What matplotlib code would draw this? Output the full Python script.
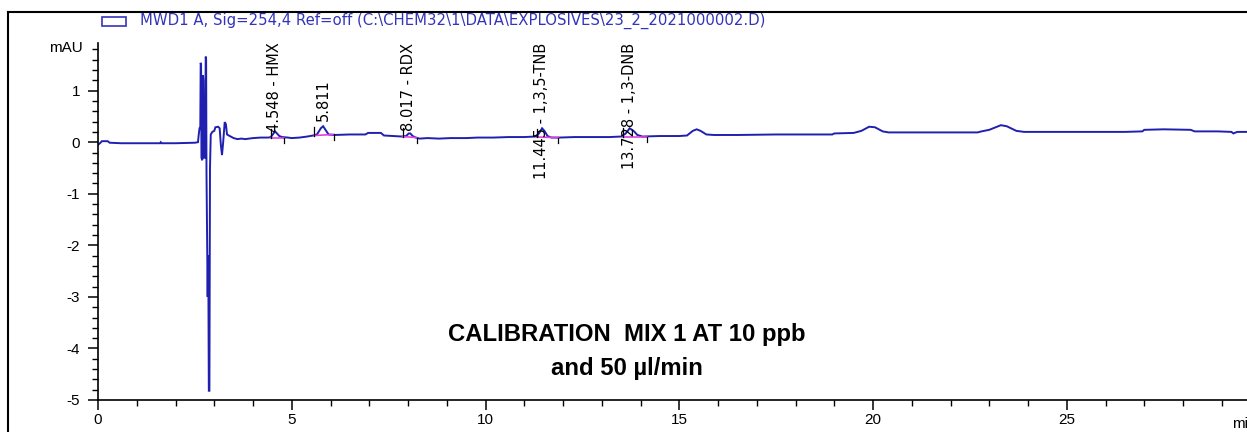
import matplotlib
matplotlib.use("Agg")
import matplotlib.pyplot as plt
from matplotlib.patches import Rectangle
from matplotlib.lines import Line2D
from matplotlib.ticker import MultipleLocator

# ---------------- data ----------------
time_min = [0.00, 0.05, 0.10, 0.25, 0.30, 0.6, 1.0, 1.6, 1.62, 1.64, 2.0, 2.5,
            2.58, 2.60, 2.62, 2.64, 2.65, 2.66, 2.67, 2.69, 2.71, 2.72, 2.73, 2.76,
            2.78, 2.79, 2.80, 2.82, 2.83, 2.84, 2.85, 2.86, 2.875, 2.89, 2.91, 2.95,
            3.00, 3.03, 3.10, 3.14, 3.17, 3.20, 3.23, 3.27, 3.30, 3.33, 3.40, 3.5,
            3.6, 3.7, 3.8, 3.9,
            4.0, 4.2, 4.4, 4.46, 4.52, 4.57, 4.62, 4.68, 4.75, 4.9, 5.0, 5.2, 5.4,
            5.55, 5.65, 5.75, 5.81, 5.87, 5.95, 6.1, 6.5, 6.9, 6.97, 7.3, 7.38, 7.6,
            7.85, 7.95, 8.02, 8.06, 8.12, 8.2, 8.3, 8.5, 8.8, 9.1, 9.5,
            9.8, 10.2, 10.6, 11.0, 11.28, 11.38, 11.46, 11.52, 11.6, 11.7, 11.9,
            12.3, 12.8, 13.2, 13.5, 13.62, 13.72, 13.82, 13.92, 14.05, 14.5, 15.0,
            15.2, 15.35, 15.45, 15.55, 15.7, 15.9, 16.5, 17.5, 18.5, 18.95, 19.0,
            19.5, 19.7, 19.9, 20.05, 20.25, 20.4, 21.0, 22.0, 22.7, 22.8, 23.0,
            23.3, 23.45, 23.7, 23.9, 24.5, 25.5, 26.5, 26.95, 27.0, 27.5, 28.2,
            28.3, 28.9, 29.25, 29.3, 29.4, 29.7]
signal_mau = [-0.05, -0.02, 0.02, 0.02, -0.01, -0.02, -0.02, -0.02, 0.0, -0.02, -0.02, -0.01,
              0.0, 0.15, 0.27, 0.30, 1.54, 1.50, -0.30, -0.35, 1.30, 1.20, -0.30, -0.30,
              1.66, 1.60, -0.60, -2.20, -3.00, -2.20, -3.00, -4.82, -4.82, -0.50, 0.15, 0.20,
              0.22, 0.29, 0.30, 0.27, -0.05, -0.25, 0.00, 0.39, 0.35, 0.15, 0.12, 0.08,
              0.06, 0.07, 0.06, 0.07,
              0.08, 0.09, 0.09, 0.10, 0.16, 0.21, 0.17, 0.12, 0.10, 0.09, 0.08, 0.09, 0.11,
              0.13, 0.15, 0.27, 0.31, 0.24, 0.15, 0.14, 0.15, 0.15, 0.18, 0.18, 0.13, 0.12,
              0.11, 0.12, 0.17, 0.17, 0.12, 0.09, 0.07, 0.08, 0.07, 0.08, 0.08,
              0.09, 0.09, 0.10, 0.10, 0.11, 0.17, 0.27, 0.22, 0.12, 0.09, 0.09,
              0.10, 0.10, 0.10, 0.11, 0.17, 0.27, 0.22, 0.14, 0.11, 0.12, 0.12,
              0.13, 0.22, 0.25, 0.22, 0.15, 0.14, 0.14, 0.15, 0.15, 0.15, 0.17,
              0.18, 0.22, 0.30, 0.29, 0.21, 0.19, 0.19, 0.19, 0.19, 0.21, 0.24,
              0.33, 0.31, 0.22, 0.20, 0.20, 0.20, 0.20, 0.21, 0.24, 0.25, 0.24,
              0.21, 0.21, 0.20, 0.17, 0.20, 0.20]

peak_rt = [4.548, 5.811, 8.017, 11.445, 13.728]
peak_name = ["HMX", "", "RDX", "1,3,5-TNB", "1,3-DNB"]
peak_apex = [0.21, 0.31, 0.17, 0.27, 0.27]
peak_start = [4.46, 5.58, 7.86, 11.32, 13.55]
peak_end = [4.80, 6.08, 8.22, 11.88, 14.17]
peak_base_start = [0.09, 0.13, 0.11, 0.10, 0.11]
peak_base_end = [0.09, 0.15, 0.09, 0.09, 0.11]

header = r"MWD1 A, Sig=254,4 Ref=off (C:\CHEM32\1\DATA\EXPLOSIVES\23_2_2021000002.D)"
note_line1 = "CALIBRATION  MIX 1 AT 10 ppb"
note_line2 = "and 50 µl/min"

# ---------------- figure ----------------
W, H = 1247, 432
fig = plt.figure(figsize=(W / 100, H / 100), dpi=100)
fig.patch.set_facecolor("white")

ax = fig.add_axes([98 / W, (H - 400) / H, 1 - 98 / W, (400 - 42.7) / H])
trace_col = "#2020b0"
ax.plot(time_min, signal_mau, color=trace_col, lw=1.4, solid_joinstyle="miter")

# integration baselines and event marks
for s, e, bs, be in zip(peak_start, peak_end, peak_base_start, peak_base_end):
    ax.plot([s, e], [bs, be], color="#e040e0", lw=1.2, zorder=3)
    ax.plot([s, s], [bs, bs + 0.16], color="black", lw=0.9, zorder=4)
    ax.plot([e, e], [be, be - 0.1], color="black", lw=0.9, zorder=4)

ax.set_xlim(0, (W - 98) / 38.75)
ax.set_ylim(-5, 1.93)

# peak labels
lab_font = dict(family="DejaVu Sans", size=10.5, color="black")
for rt, name, apex in zip(peak_rt, peak_name, peak_apex):
    if name:
        ax.text(rt, 1.93, f"{rt:.3f} - {name}", rotation=90, ha="center", va="top",
                **lab_font)
    else:
        ax.text(rt, apex + 0.1, f"{rt:.3f}", rotation=90, ha="center", va="bottom",
                **lab_font)

for sp in ["top", "right"]:
    ax.spines[sp].set_visible(False)
for sp in ["left", "bottom"]:
    ax.spines[sp].set_linewidth(1.2)

ax.xaxis.set_major_locator(MultipleLocator(5))
ax.xaxis.set_minor_locator(MultipleLocator(1))
ax.yaxis.set_major_locator(MultipleLocator(1))
ax.yaxis.set_minor_locator(MultipleLocator(0.2))
ax.tick_params(which="major", direction="out", length=7, width=1.1,
               labelsize=11, pad=6)
ax.tick_params(which="minor", direction="out", length=4, width=1.0)
ax.tick_params(axis="x", which="major", pad=2.5)
ax.set_yticks([-5, -4, -3, -2, -1, 0, 1])
ax.set_yticklabels(["-5", "-4", "-3", "-2", "-1", "0", "1"])
for lab in ax.get_xticklabels() + ax.get_yticklabels():
    lab.set_fontfamily("Liberation Sans")

fig.text(83 / W, (H - 48) / H, "mAU", ha="right", va="center",
         family="Liberation Sans", size=11)
fig.text(1232 / W, (H - 424) / H, "min", ha="left", va="center",
         family="Liberation Sans", size=11)

# header legend
hdr_col = "#3333bb"
fig.patches.append(Rectangle((102 / W, (H - 26) / H), 24 / W, 9 / H, fill=False,
                             edgecolor=hdr_col, lw=1.2, transform=fig.transFigure))
fig.text(140 / W, (H - 21) / H, header, ha="left", va="center", color=hdr_col,
         family="DejaVu Sans", size=10.7)

# outer frame
fig.add_artist(Line2D([8 / W, 8 / W], [0, (H - 12) / H], color="black", lw=1.5,
                      transform=fig.transFigure))
fig.add_artist(Line2D([8 / W, 1], [(H - 12) / H, (H - 12) / H], color="black", lw=1.5,
                      transform=fig.transFigure))

# annotation
fig.text(627 / W, (H - 335) / H, note_line1, ha="center", va="center",
         family="Liberation Sans", weight="bold", size=17.2)
fig.text(627 / W, (H - 368) / H, note_line2, ha="center", va="center",
         family="Liberation Sans", weight="bold", size=17.2)

fig.savefig("out.png", dpi=100)
